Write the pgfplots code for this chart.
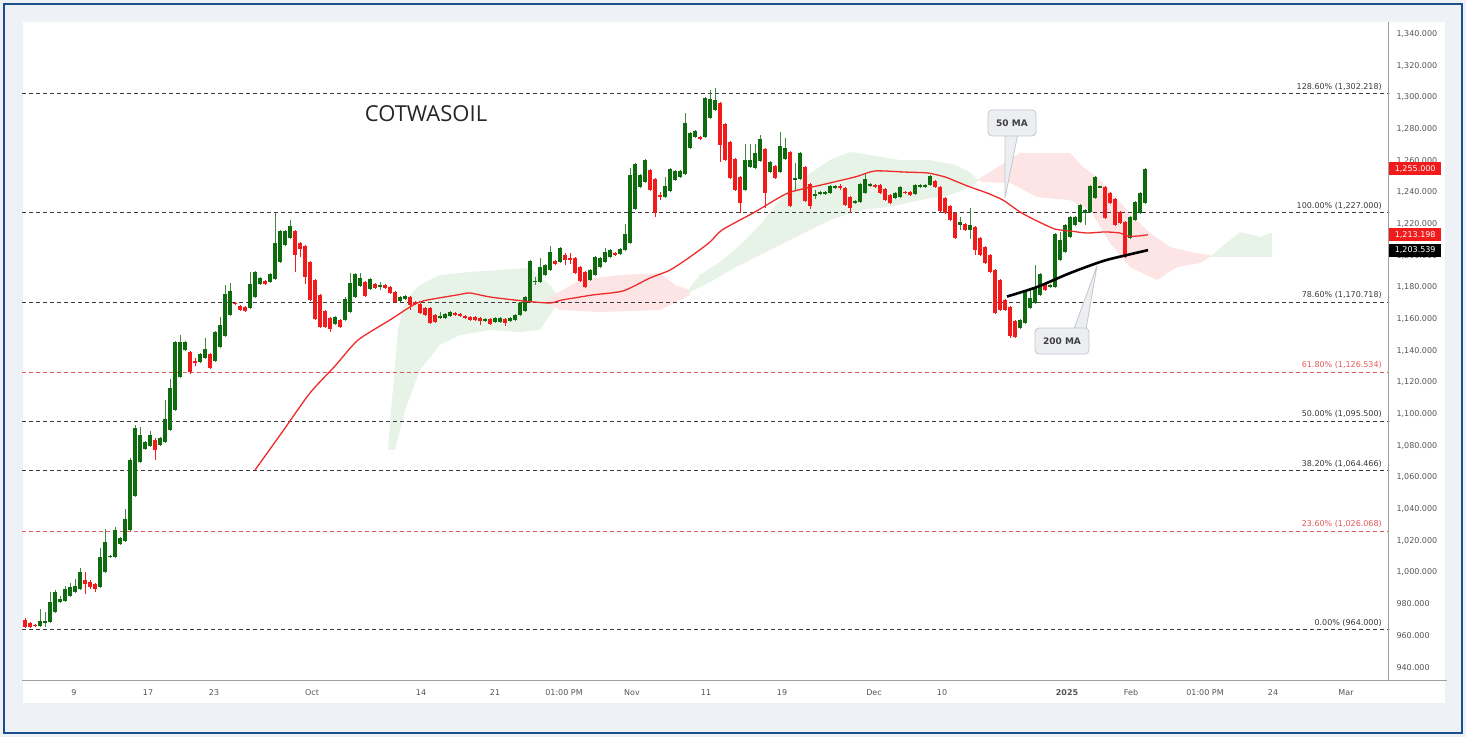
\documentclass[border=0pt]{standalone}
\usepackage{fontspec}
\setmainfont{DejaVu Sans}
\newfontfamily\titlefont{Open Sans}
\usepackage{pgfplots}
\usepackage{pgfplotstable}
\pgfplotsset{compat=1.18}

\definecolor{cgreen}{HTML}{0E6B0E}
\definecolor{cred}{HTML}{F21B1B}
\definecolor{fibk}{HTML}{3A3A3A}
\definecolor{fibr}{HTML}{E35A5A}
\definecolor{cloudg}{HTML}{E8F3E8}
\definecolor{cloudr}{HTML}{FDE5E5}
\definecolor{maline}{HTML}{EE2A2A}
\definecolor{tickgrey}{HTML}{555555}
\definecolor{axisgrey}{HTML}{A0A0A0}
\definecolor{framebl}{HTML}{1C4F8C}
\definecolor{bggrey}{HTML}{EEF1F5}
\definecolor{callfill}{HTML}{ECEEF1}
\definecolor{calldraw}{HTML}{C2C7CE}

% i open high low close  (rising candles)
\pgfplotstableread{
i o h l c
4 966.1 976.8 965.5 969.3
5 968.0 974.9 965.5 969.3
6 968.6 987.6 968.0 981.3
7 974.9 988.8 974.3 987.6
8 981.3 985.1 980.6 983.1
9 981.9 991.4 981.3 989.5
10 985.1 993.3 984.5 990.7
11 987.6 995.8 987.0 991.4
12 989.5 1002.7 988.8 1000.2
16 990.7 1015.4 990.0 1009.7
17 1000.2 1027.4 999.5 1019.2
18 1009.7 1011.0 1009.0 1010.3
19 1009.7 1028.6 1009.0 1026.7
20 1017.9 1022.3 1017.3 1021.7
21 1019.8 1040.0 1019.2 1033.7
22 1026.7 1072.2 1026.1 1070.9
23 1048.2 1093.1 1047.6 1091.2
24 1069.7 1091.8 1069.0 1086.7
25 1077.9 1083.0 1077.3 1082.3
26 1079.8 1089.3 1079.2 1086.7
28 1080.4 1085.5 1079.8 1084.8
29 1082.3 1108.8 1081.7 1096.8
30 1089.9 1122.1 1089.3 1116.4
31 1102.5 1146.1 1101.9 1145.5
32 1123.4 1149.9 1122.7 1145.5
33 1140.4 1146.1 1139.8 1145.5
36 1132.8 1138.5 1132.2 1137.9
37 1135.4 1148.0 1134.8 1141.1
39 1133.5 1152.4 1132.9 1151.8
40 1142.3 1161.3 1141.7 1156.2
41 1149.3 1181.5 1148.6 1175.8
42 1162.5 1182.7 1161.9 1177.7
46 1166.9 1189.7 1166.3 1182.1
47 1173.9 1190.3 1173.3 1189.7
48 1182.1 1186.5 1181.5 1185.9
50 1183.4 1189.0 1182.7 1188.4
51 1185.3 1226.9 1184.6 1208.0
52 1196.0 1216.2 1195.4 1215.6
53 1206.7 1216.2 1206.1 1215.6
54 1211.2 1222.5 1210.5 1218.7
63 1156.8 1161.9 1156.2 1161.3
65 1159.4 1173.9 1158.7 1172.6
66 1164.4 1189.0 1163.8 1182.7
67 1173.9 1189.0 1173.3 1188.4
68 1180.8 1189.0 1180.2 1185.9
70 1178.9 1185.9 1178.3 1185.3
72 1180.2 1183.4 1178.3 1181.5
76 1171.4 1174.5 1170.7 1173.9
77 1172.6 1175.2 1172.0 1174.5
84 1160.6 1164.4 1160.0 1161.9
85 1160.6 1163.8 1160.0 1163.2
86 1161.9 1165.1 1161.3 1164.4
93 1158.7 1160.6 1158.1 1160.0
95 1158.1 1161.3 1157.5 1160.6
96 1158.1 1161.3 1157.5 1160.6
98 1158.7 1161.3 1158.1 1160.6
99 1159.4 1163.2 1158.7 1162.5
100 1162.5 1170.7 1161.9 1170.1
101 1165.1 1174.5 1164.4 1173.9
102 1170.7 1197.3 1170.1 1196.6
103 1183.4 1186.5 1181.5 1184.0
104 1183.4 1198.5 1182.7 1192.8
105 1187.8 1194.8 1187.1 1194.1
106 1190.9 1206.1 1190.3 1202.3
108 1196.0 1205.5 1195.4 1204.8
114 1184.6 1191.6 1184.0 1190.9
115 1187.8 1199.8 1187.1 1199.2
116 1192.8 1199.2 1192.2 1198.5
117 1196.0 1204.8 1195.4 1202.3
118 1199.2 1204.2 1198.5 1203.6
120 1201.1 1204.8 1200.4 1204.2
121 1203.6 1220.0 1202.9 1213.7
122 1208.0 1255.4 1207.4 1250.9
123 1229.5 1258.6 1228.8 1257.9
124 1243.4 1251.6 1242.7 1250.9
125 1246.5 1261.0 1245.9 1260.4
129 1237.0 1249.7 1236.4 1244.0
130 1240.8 1255.4 1240.2 1254.7
131 1247.8 1254.1 1247.1 1253.5
132 1249.7 1254.1 1249.1 1253.5
133 1251.6 1290.1 1250.9 1283.8
134 1268.0 1278.1 1267.4 1277.5
135 1274.9 1279.4 1274.3 1278.7
137 1274.9 1300.2 1274.3 1299.6
138 1286.9 1304.6 1286.3 1298.9
139 1292.0 1305.9 1291.4 1298.3
145 1241.5 1270.5 1240.8 1260.4
146 1256.0 1270.5 1255.4 1260.4
147 1255.4 1270.5 1254.7 1264.8
148 1259.8 1276.2 1259.2 1273.7
150 1252.8 1259.8 1252.2 1259.2
152 1252.8 1278.1 1252.2 1269.3
153 1261.0 1274.3 1260.4 1268.0
155 1247.8 1258.5 1241.5 1249.1
156 1248.4 1265.5 1247.8 1264.8
159 1237.7 1241.5 1235.8 1238.9
160 1238.9 1240.8 1238.3 1240.2
161 1238.9 1240.8 1238.3 1240.2
162 1239.6 1244.6 1238.9 1244.0
163 1242.7 1244.6 1242.1 1244.0
167 1233.3 1235.1 1232.6 1234.5
168 1233.9 1245.9 1233.3 1245.3
169 1239.6 1251.6 1238.9 1248.4
170 1244.0 1245.9 1243.4 1245.3
175 1236.4 1240.2 1235.8 1239.6
176 1237.0 1244.0 1236.4 1243.4
179 1238.9 1245.3 1238.3 1244.6
180 1243.4 1245.3 1242.7 1244.6
181 1243.4 1245.3 1242.7 1244.6
182 1244.6 1251.0 1244.0 1250.3
188 1219.4 1224.4 1216.2 1221.3
190 1216.2 1230.1 1210.5 1219.4
200 1154.3 1160.0 1153.7 1159.4
201 1157.5 1177.7 1156.8 1177.0
202 1166.9 1178.3 1166.3 1173.3
203 1170.1 1194.1 1169.5 1180.2
204 1175.2 1189.0 1174.5 1188.4
206 1180.2 1182.1 1179.6 1181.5
207 1180.2 1214.3 1179.6 1213.7
208 1197.3 1215.0 1196.6 1209.9
209 1202.3 1220.0 1201.7 1219.4
210 1211.8 1225.0 1211.2 1224.4
211 1219.4 1225.0 1218.7 1224.4
212 1221.3 1232.6 1220.6 1232.0
213 1226.9 1229.5 1219.4 1228.8
214 1227.6 1244.6 1226.9 1244.0
215 1236.4 1250.3 1235.8 1249.7
216 1243.0 1244.0 1242.7 1243.7
222 1211.2 1225.0 1210.5 1224.4
223 1222.5 1234.5 1221.9 1233.9
224 1226.9 1240.2 1226.3 1239.6
225 1233.3 1255.6 1232.6 1255.0
}\upc

% falling candles
\pgfplotstableread{
i o h l c
1 969.9 971.2 964.8 965.7
2 968.0 968.6 964.8 965.5
3 966.7 967.3 965.5 966.1
13 995.2 1000.2 986.3 992.6
14 993.9 995.2 989.5 990.7
15 992.6 993.3 987.6 989.5
27 1083.6 1084.8 1070.9 1077.3
34 1139.2 1139.8 1125.3 1126.5
35 1133.5 1135.4 1130.3 1132.2
38 1137.9 1138.5 1128.4 1129.0
43 1170.1 1170.7 1168.8 1169.5
44 1168.2 1168.8 1165.0 1165.7
45 1167.6 1168.2 1164.4 1165.0
49 1184.0 1184.6 1181.5 1182.1
55 1215.6 1216.2 1189.7 1200.4
56 1208.0 1208.6 1199.2 1204.2
57 1206.1 1206.7 1182.1 1186.5
58 1196.0 1196.6 1171.4 1172.0
59 1184.6 1185.3 1159.4 1160.0
60 1175.2 1175.8 1154.3 1155.0
61 1165.1 1165.7 1154.3 1155.0
62 1160.6 1161.3 1151.8 1153.7
64 1159.4 1160.0 1154.3 1155.0
69 1183.4 1184.0 1173.9 1174.5
71 1182.1 1182.7 1179.0 1179.6
73 1181.5 1182.1 1179.0 1179.6
74 1180.2 1180.8 1175.8 1176.4
75 1177.0 1177.7 1170.1 1170.7
78 1173.9 1174.5 1165.7 1168.8
79 1170.7 1171.4 1168.8 1169.5
80 1169.5 1170.1 1163.2 1163.8
81 1166.9 1167.6 1161.9 1162.5
82 1166.9 1167.6 1156.8 1157.5
83 1162.5 1163.2 1157.5 1158.1
87 1163.8 1164.4 1161.9 1162.5
88 1163.2 1163.8 1161.3 1161.9
89 1161.9 1162.5 1160.0 1160.6
90 1161.3 1161.9 1158.7 1159.4
91 1161.3 1161.9 1158.7 1159.4
92 1160.6 1161.3 1156.2 1158.7
94 1160.0 1160.6 1156.2 1156.8
97 1160.0 1160.6 1155.6 1157.5
107 1196.6 1197.3 1194.1 1194.7
109 1200.4 1201.7 1194.1 1197.3
110 1198.5 1201.7 1194.7 1197.3
111 1198.5 1199.2 1188.4 1189.0
112 1192.8 1193.5 1183.4 1184.0
113 1189.7 1190.3 1179.6 1180.2
119 1201.7 1202.3 1199.8 1200.4
126 1254.1 1254.7 1240.8 1241.5
127 1248.4 1249.1 1224.4 1226.9
128 1238.3 1240.2 1235.1 1237.0
136 1274.9 1275.6 1273.0 1273.7
140 1296.4 1297.1 1259.2 1269.9
141 1283.2 1283.8 1259.8 1260.4
142 1271.8 1272.4 1248.4 1249.1
143 1261.0 1261.7 1240.8 1241.5
144 1249.7 1250.3 1226.9 1233.3
149 1267.4 1268.0 1230.1 1239.6
151 1256.6 1257.3 1248.4 1249.1
154 1265.5 1266.1 1230.8 1231.4
157 1256.0 1256.6 1233.9 1234.5
158 1245.3 1245.9 1229.5 1231.4
164 1244.0 1245.3 1241.5 1242.7
165 1242.7 1243.4 1231.4 1232.0
166 1237.0 1237.7 1226.9 1230.1
171 1244.6 1245.3 1242.7 1243.4
172 1244.6 1245.3 1238.9 1239.6
173 1242.1 1242.7 1234.5 1235.1
174 1238.3 1238.9 1232.6 1233.3
177 1240.2 1240.8 1238.9 1239.6
178 1240.2 1240.8 1237.7 1238.3
183 1247.2 1247.8 1242.7 1243.4
184 1243.4 1244.0 1227.6 1228.2
185 1236.4 1237.0 1226.3 1226.9
186 1231.4 1232.0 1221.9 1222.5
187 1226.9 1227.6 1210.5 1211.2
189 1220.0 1220.6 1215.6 1216.2
191 1218.1 1218.7 1200.4 1203.6
192 1211.2 1211.8 1199.8 1200.4
193 1205.5 1206.1 1194.7 1195.4
194 1200.4 1201.1 1189.0 1189.7
195 1190.9 1191.6 1163.2 1163.8
196 1184.6 1185.3 1165.0 1165.7
197 1172.0 1172.6 1165.0 1165.7
198 1167.6 1168.2 1148.0 1149.3
199 1158.7 1159.4 1148.0 1148.6
205 1182.1 1182.7 1177.7 1178.3
217 1243.4 1244.0 1223.2 1223.8
218 1239.6 1240.2 1232.6 1233.3
219 1235.8 1236.4 1218.7 1219.4
220 1227.6 1228.2 1220.0 1220.6
221 1221.3 1221.9 1198.5 1199.2
}\downc

\begin{document}
\begin{tikzpicture}[x=1pt,y=1pt]
\fill[bggrey] (0,0) rectangle (1466,737);
\useasboundingbox (0,0) rectangle (1466,737);
\fill[white] (23,34) rectangle (1445,715);
\draw[framebl, line width=2.5pt] (4,4) rectangle (1462,733);
\begin{axis}[
  at={(22pt,57pt)}, anchor=south west,
  width=1366pt, height=658pt, scale only axis,
  xmin=0.4, xmax=273.6, ymin=932.0, ymax=1347.58,
  clip=false,
  axis x line*=bottom, axis y line*=right,
  axis line style={draw=axisgrey, line width=0.8pt, -},
  major tick length=0pt,
  xtick={10.8,25.6,38.8,58.4,80.2,95.0,108.8,122.4,137.2,152.4,170.8,184.4,209.4,222.2,237.0,250.6,265.2},
  xticklabels={9,17,23,Oct,14,21,01:00 PM,Nov,11,19,Dec,10,\textbf{2025},Feb,01:00 PM,24,Mar},
  x tick label style={font=\fontsize{8}{9.6}\selectfont, text=tickgrey, yshift=-6pt},
  ytick={940,960,...,1340},
  yticklabel pos=right,
  y tick label style={font=\fontsize{8}{9.6}\selectfont, text=tickgrey, anchor=west, xshift=5pt,
    /pgf/number format/.cd, fixed, fixed zerofill, precision=3, 1000 sep={,}},
  /pgf/number format/assume math mode=true,
]
% Ichimoku cloud areas
\addplot[fill=cloudg, draw=none] coordinates {
 (73.6,1077.3) (74.4,1108.8) (75.6,1153.1) (77.0,1172.0) (80.0,1181.5) (84.0,1187.8)
 (90.0,1189.7) (96.0,1190.9) (102.0,1192.2) (106.0,1181.5) (108.0,1172.0)
 (104.0,1153.1) (100.0,1151.8) (94.0,1153.1) (88.0,1149.9) (84.0,1143.6)
 (80.0,1127.8) (77.0,1102.5) (75.0,1077.3)} -- cycle;
\addplot[fill=cloudr, draw=none] coordinates {
 (105.0,1172.0) (112.0,1184.6) (120.0,1187.8) (128.0,1189.0) (131.0,1181.5) (134.0,1178.3)
 (134.0,1175.2) (128.0,1165.7) (116.0,1164.4) (108.0,1165.7) (105.0,1170.7)} -- cycle;
\addplot[fill=cloudg, draw=none] coordinates {
 (133.6,1178.3) (136.0,1187.8) (140.0,1196.0) (144.0,1206.7) (148.0,1219.4) (152.0,1235.1)
 (156.0,1247.8) (162.0,1260.4) (166.0,1265.5) (170.0,1263.6) (176.0,1260.4) (182.0,1260.4)
 (187.0,1257.3) (190.0,1252.8) (191.6,1247.8) (191.0,1244.6) (186.0,1238.3) (180.0,1235.1)
 (174.0,1230.8) (168.0,1228.8) (162.0,1222.5) (156.0,1213.1) (150.0,1203.6) (144.0,1194.1)
 (138.0,1183.4) (134.0,1177.0)} -- cycle;
\addplot[fill=cloudr, draw=none] coordinates {
 (191.4,1247.8) (194.0,1252.8) (200.0,1264.8) (210.0,1264.8) (212.6,1256.0) (215.4,1249.7)
 (222.0,1226.9) (226.0,1214.3) (230.0,1205.5) (234.0,1202.3) (238.0,1200.4)
 (238.0,1199.2) (236.0,1195.4) (231.4,1192.8) (227.4,1184.6) (222.0,1192.8) (218.0,1208.0)
 (214.0,1228.8) (210.0,1235.1) (203.4,1237.0) (198.0,1245.9) (192.6,1246.5)} -- cycle;
\addplot[fill=cloudg, draw=none] coordinates {
 (238.0,1199.2) (242.0,1209.9) (244.0,1214.9) (248.0,1211.8) (250.0,1214.3) (250.4,1214.3)
 (250.4,1199.2)} -- cycle;

% Fibonacci levels
\addplot[fibk, line width=0.9pt, dash pattern=on 4pt off 3pt] coordinates {(0.4,1302.218) (273.6,1302.218)};
\addplot[fibk, line width=0.9pt, dash pattern=on 4pt off 3pt] coordinates {(0.4,1227.0) (273.6,1227.0)};
\addplot[fibk, line width=0.9pt, dash pattern=on 4pt off 3pt] coordinates {(0.4,1170.718) (273.6,1170.718)};
\addplot[fibr, line width=0.9pt, dash pattern=on 4pt off 3pt] coordinates {(0.4,1126.534) (273.6,1126.534)};
\addplot[fibk, line width=0.9pt, dash pattern=on 4pt off 3pt] coordinates {(0.4,1095.5) (273.6,1095.5)};
\addplot[fibk, line width=0.9pt, dash pattern=on 4pt off 3pt] coordinates {(0.4,1064.466) (273.6,1064.466)};
\addplot[fibr, line width=0.9pt, dash pattern=on 4pt off 3pt] coordinates {(0.4,1026.068) (273.6,1026.068)};
\addplot[fibk, line width=0.9pt, dash pattern=on 4pt off 3pt] coordinates {(0.4,964.0) (273.6,964.0)};

% candles: wicks
\addplot[draw=none, mark=none, error bars/.cd, y dir=plus, y explicit, error mark=none,
  error bar style={draw=cgreen!80, line width=1pt}]
  table[x=i, y=l, y error plus expr=\thisrow{h}-\thisrow{l}] {\upc};
\addplot[draw=none, mark=none, error bars/.cd, y dir=plus, y explicit, error mark=none,
  error bar style={draw=cred, line width=1pt}]
  table[x=i, y=l, y error plus expr=\thisrow{h}-\thisrow{l}] {\downc};
% candles: bodies
\addplot[draw=none, mark=none, error bars/.cd, y dir=plus, y explicit, error mark=none,
  error bar style={draw=cgreen, line width=3.7pt}]
  table[x=i, y=o, y error plus expr=\thisrow{c}-\thisrow{o}] {\upc};
\addplot[draw=none, mark=none, error bars/.cd, y dir=plus, y explicit, error mark=none,
  error bar style={draw=cred, line width=3.7pt}]
  table[x=i, y=c, y error plus expr=\thisrow{o}-\thisrow{c}] {\downc};

% 50 MA
\addplot[maline, line width=1.3pt, smooth, tension=0.4] coordinates {
 (47.0,1064.6) (52.6,1089.3) (58.0,1113.3) (63.0,1130.3) (67.6,1146.7) (74.0,1159.4)
 (78.0,1167.6) (80.6,1171.4) (87.4,1175.2) (90.0,1176.4) (94.0,1173.9) (100.6,1171.4)
 (106.0,1170.1) (108.4,1172.0) (114.6,1175.2) (120.6,1177.7) (126.0,1185.9) (130.0,1190.9)
 (134.0,1199.2) (138.0,1208.6) (140.4,1216.2) (147.0,1227.6) (153.6,1239.6) (160.2,1244.6)
 (167.0,1249.7) (171.0,1253.5) (177.0,1252.8) (181.6,1252.2) (185.0,1249.7) (187.0,1247.2)
 (190.0,1243.4) (193.4,1239.6) (196.6,1235.1) (200.0,1227.6) (203.4,1221.9) (207.0,1216.8)
 (210.0,1215.6) (213.4,1214.3) (217.0,1215.0) (220.0,1214.3) (221.6,1212.4) (223.6,1212.4)
 (225.6,1213.2)};
% 200 MA
\addplot[black, line width=2.6pt, smooth] coordinates {
 (197.4,1174.2) (203.4,1180.2) (210.0,1189.0) (216.6,1196.6) (221.4,1200.4) (225.6,1203.5)};

% Fibonacci labels
\begin{scope}[every node/.style={anchor=south east, inner sep=0pt, yshift=3pt, font=\fontsize{8}{9.6}\selectfont}]
\node[text=fibk] at (axis cs:272.4,1302.218) {128.60\% (1,302.218)};
\node[text=fibk] at (axis cs:272.4,1227.0) {100.00\% (1,227.000)};
\node[text=fibk] at (axis cs:272.4,1170.718) {78.60\% (1,170.718)};
\node[text=fibr] at (axis cs:272.4,1126.534) {61.80\% (1,126.534)};
\node[text=fibk] at (axis cs:272.4,1095.5) {50.00\% (1,095.500)};
\node[text=fibk] at (axis cs:272.4,1064.466) {38.20\% (1,064.466)};
\node[text=fibr] at (axis cs:272.4,1026.068) {23.60\% (1,026.068)};
\node[text=fibk] at (axis cs:272.4,964.0) {0.00\% (964.000)};
\end{scope}

% title
\node[font=\titlefont\fontsize{22}{26}\selectfont, text=black!85] at (axis cs:81.2,1290.0) {COTWASOIL};

% callouts
\filldraw[fill=callfill, draw=calldraw, line width=0.8pt]
  (axis cs:197.0,1277.5) -- (axis cs:197.0,1236.4) -- (axis cs:199.6,1277.5) -- cycle;
\node[fill=callfill, draw=calldraw, line width=0.8pt, rounded corners=4pt, minimum width=48pt, minimum height=26pt, inner sep=0pt,
  font=\bfseries\fontsize{9}{10.8}\selectfont, text=black!75] at (axis cs:198.4,1283.8) {50 MA};
\filldraw[fill=callfill, draw=calldraw, line width=0.8pt]
  (axis cs:210.8,1153.7) -- (axis cs:215.4,1193.5) -- (axis cs:213.2,1153.7) -- cycle;
\node[fill=callfill, draw=calldraw, line width=0.8pt, rounded corners=4pt, minimum width=54pt, minimum height=26pt, inner sep=0pt,
  font=\bfseries\fontsize{9}{10.8}\selectfont, text=black!75] at (axis cs:208.4,1146.1) {200 MA};

% price labels on the scale
\begin{scope}[every node/.style={anchor=west, xshift=1pt, inner sep=0pt, minimum width=52pt, minimum height=13pt, text=white, font=\fontsize{8}{9.6}\selectfont}]
\node[fill=cred] at (axis cs:273.6,1255.0) {1,255.000};
\node[fill=cred] at (axis cs:273.6,1213.198) {1,213.198};
\node[fill=black] at (axis cs:273.6,1203.539) {1,203.539};
\end{scope}
\end{axis}
\draw[axisgrey, line width=0.8pt] (1388,57) -- (1447,57);
\end{tikzpicture}
\end{document}
